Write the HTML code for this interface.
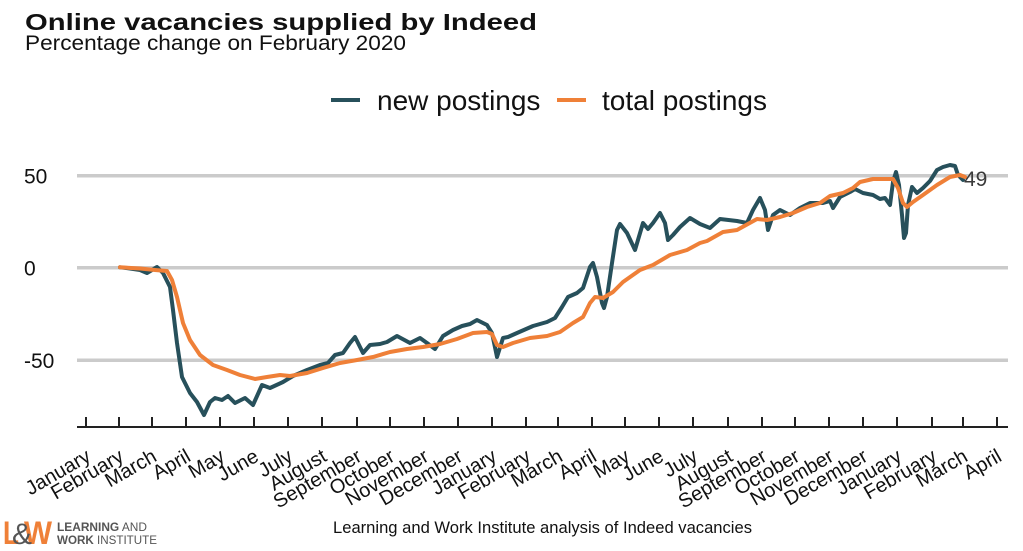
<!DOCTYPE html>
<html>
<head>
<meta charset="utf-8">
<style>
  html, body { margin: 0; padding: 0; background: #ffffff; }
  body { width: 1023px; height: 551px; overflow: hidden; }
  svg { display: block; }
  text { font-family: "Liberation Sans", Arial, sans-serif; }
</style>
</head>
<body>
<svg width="1023" height="551" viewBox="0 0 1023 551" xmlns="http://www.w3.org/2000/svg">
  <rect x="0" y="0" width="1023" height="551" fill="#ffffff"/>

  <!-- Title -->
  <text x="25" y="30" font-size="23" font-weight="bold" fill="#111" textLength="512" lengthAdjust="spacingAndGlyphs">Online vacancies supplied by Indeed</text>
  <text x="25" y="50" font-size="21" fill="#111" textLength="381" lengthAdjust="spacingAndGlyphs">Percentage change on February 2020</text>

  <!-- Legend -->
  <line x1="331" y1="100" x2="360" y2="100" stroke="#27505b" stroke-width="4"/>
  <text x="377" y="110" font-size="28" fill="#111">new postings</text>
  <line x1="557" y1="100" x2="586" y2="100" stroke="#ef8038" stroke-width="4"/>
  <text x="602" y="110" font-size="28" fill="#111">total postings</text>

  <!-- Gridlines -->
  <g stroke="#cbcbcb" stroke-width="3.5">
    <line x1="77" y1="175.7" x2="1008" y2="175.7"/>
    <line x1="77" y1="267.7" x2="1008" y2="267.7"/>
    <line x1="77" y1="360.3" x2="1008" y2="360.3"/>
  </g>

  <!-- Y labels -->
  <g font-size="21" fill="#111">
    <text x="24" y="183.5">50</text>
    <text x="24" y="275.5">0</text>
    <text x="24" y="368">-50</text>
  </g>

  <!-- X axis -->
  <line x1="77" y1="427" x2="1008" y2="427" stroke="#222" stroke-width="2"/>
  <g stroke="#222" stroke-width="2">
    <line x1="86" y1="417" x2="86" y2="427"/>
    <line x1="119" y1="417" x2="119" y2="427"/>
    <line x1="152" y1="417" x2="152" y2="427"/>
    <line x1="186" y1="417" x2="186" y2="427"/>
    <line x1="220" y1="417" x2="220" y2="427"/>
    <line x1="254" y1="417" x2="254" y2="427"/>
    <line x1="288" y1="417" x2="288" y2="427"/>
    <line x1="322" y1="417" x2="322" y2="427"/>
    <line x1="357" y1="417" x2="357" y2="427"/>
    <line x1="390" y1="417" x2="390" y2="427"/>
    <line x1="424" y1="417" x2="424" y2="427"/>
    <line x1="458" y1="417" x2="458" y2="427"/>
    <line x1="492" y1="417" x2="492" y2="427"/>
    <line x1="526" y1="417" x2="526" y2="427"/>
    <line x1="558" y1="417" x2="558" y2="427"/>
    <line x1="592" y1="417" x2="592" y2="427"/>
    <line x1="625" y1="417" x2="625" y2="427"/>
    <line x1="659" y1="417" x2="659" y2="427"/>
    <line x1="693" y1="417" x2="693" y2="427"/>
    <line x1="728" y1="417" x2="728" y2="427"/>
    <line x1="762" y1="417" x2="762" y2="427"/>
    <line x1="795" y1="417" x2="795" y2="427"/>
    <line x1="829" y1="417" x2="829" y2="427"/>
    <line x1="863" y1="417" x2="863" y2="427"/>
    <line x1="897" y1="417" x2="897" y2="427"/>
    <line x1="932" y1="417" x2="932" y2="427"/>
    <line x1="963" y1="417" x2="963" y2="427"/>
    <line x1="997" y1="417" x2="997" y2="427"/>
  </g>

  <!-- X labels -->
  <g font-size="20" fill="#111" text-anchor="end">
    <text transform="translate(92,460) rotate(-30)">January</text>
    <text transform="translate(125,460) rotate(-30)">February</text>
    <text transform="translate(158,460) rotate(-30)">March</text>
    <text transform="translate(192,460) rotate(-30)">April</text>
    <text transform="translate(226,460) rotate(-30)">May</text>
    <text transform="translate(260,460) rotate(-30)">June</text>
    <text transform="translate(294,460) rotate(-30)">July</text>
    <text transform="translate(328,460) rotate(-30)">August</text>
    <text transform="translate(363,460) rotate(-30)">September</text>
    <text transform="translate(396,460) rotate(-30)">October</text>
    <text transform="translate(430,460) rotate(-30)">November</text>
    <text transform="translate(464,460) rotate(-30)">December</text>
    <text transform="translate(498,460) rotate(-30)">January</text>
    <text transform="translate(532,460) rotate(-30)">February</text>
    <text transform="translate(564,460) rotate(-30)">March</text>
    <text transform="translate(598,460) rotate(-30)">April</text>
    <text transform="translate(631,460) rotate(-30)">May</text>
    <text transform="translate(665,460) rotate(-30)">June</text>
    <text transform="translate(699,460) rotate(-30)">July</text>
    <text transform="translate(734,460) rotate(-30)">August</text>
    <text transform="translate(768,460) rotate(-30)">September</text>
    <text transform="translate(801,460) rotate(-30)">October</text>
    <text transform="translate(835,460) rotate(-30)">November</text>
    <text transform="translate(869,460) rotate(-30)">December</text>
    <text transform="translate(903,460) rotate(-30)">January</text>
    <text transform="translate(938,460) rotate(-30)">February</text>
    <text transform="translate(969,460) rotate(-30)">March</text>
    <text transform="translate(1003,460) rotate(-30)">April</text>
  </g>

  <!-- Series: new postings -->
  <polyline fill="none" stroke="#27505b" stroke-width="4" stroke-linejoin="round" stroke-linecap="round"
    points="120,267.3 130,268.5 140,270 147,273 152,270 157,267 163,273 170,287 173,310 177,343 182,377 190,393 197,402 204,415 210,402 215,398 222,400 228,396 235,403 245,398 253,405 262,385 270,388 283,382 293,376 307,370 320,365 328,363 335,355 343,353 350,343 355,337 363,353 370,345 380,344 387,342 397,336 410,343 420,338 427,343 435,349 443,336 453,330 462,326 470,324 477,320 487,325 492,333 497,357 503,338 508,337 517,333 533,326 547,322 555,318 562,307 568,297 577,293 583,288 590,267 593,263 597,277 602,303 604,308 607,297 612,263 617,230 620,224 627,233 635,250 643,223 648,229 653,223 660,213 665,223 668,240 673,235 680,227 690,218 700,224 710,228 720,219 737,221 747,223 753,210 760,198 765,210 768,230 773,215 780,210 790,215 800,208 810,203 823,203 830,201 833,208 840,197 850,192 855,189 863,193 873,195 880,199 885,198 890,205 893,182 896,172 899,185 902,215 904,238 906,233 908,205 912,187 917,193 923,188 930,181 937,170 943,167 950,165 955,166 958,175 963,180"/>

  <!-- Series: total postings -->
  <polyline fill="none" stroke="#ef8038" stroke-width="4" stroke-linejoin="round" stroke-linecap="round"
    points="120,267.3 140,268.5 155,270 167,271 172,280 177,297 183,323 190,340 200,355 213,365 227,370 240,375 255,379 267,377 280,375 290,376 307,373 323,368 340,363 357,360 373,357 390,352 407,349 423,347 440,344 457,339 473,333 487,332 492,334 497,345 503,347 513,343 530,338 547,336 560,332 573,323 583,317 590,303 595,297 603,298 613,292 623,282 640,270 653,265 670,255 687,250 700,243 707,241 723,232 737,230 757,219 767,220 780,217 793,213 807,207 820,203 830,196 843,193 853,188 860,182 873,179 887,179 893,179 898,188 903,203 907,207 913,202 923,195 937,185 950,177 960,175 965,177"/>

  <!-- End value label -->
  <text x="964" y="186" font-size="21" fill="#3a3a3a">49</text>

  <!-- Caption -->
  <text x="333" y="533" font-size="16.5" fill="#111" textLength="419" lengthAdjust="spacingAndGlyphs">Learning and Work Institute analysis of Indeed vacancies</text>

  <!-- Logo -->
  <text x="3" y="544" font-size="32" font-weight="bold" fill="#ef8038" textLength="16" lengthAdjust="spacingAndGlyphs">L</text>
  <text x="24" y="544" font-size="32" font-weight="bold" fill="#ef8038" textLength="28" lengthAdjust="spacingAndGlyphs">W</text>
  <text x="12" y="544" font-size="30" fill="#555" textLength="20" lengthAdjust="spacingAndGlyphs">&amp;</text>
  <text x="57" y="531" font-size="11.5" fill="#555" textLength="90" lengthAdjust="spacingAndGlyphs"><tspan font-weight="bold">LEARNING</tspan> AND</text>
  <text x="57" y="544" font-size="11.5" fill="#555" textLength="100" lengthAdjust="spacingAndGlyphs"><tspan font-weight="bold">WORK</tspan> INSTITUTE</text>
</svg>
</body>
</html>
